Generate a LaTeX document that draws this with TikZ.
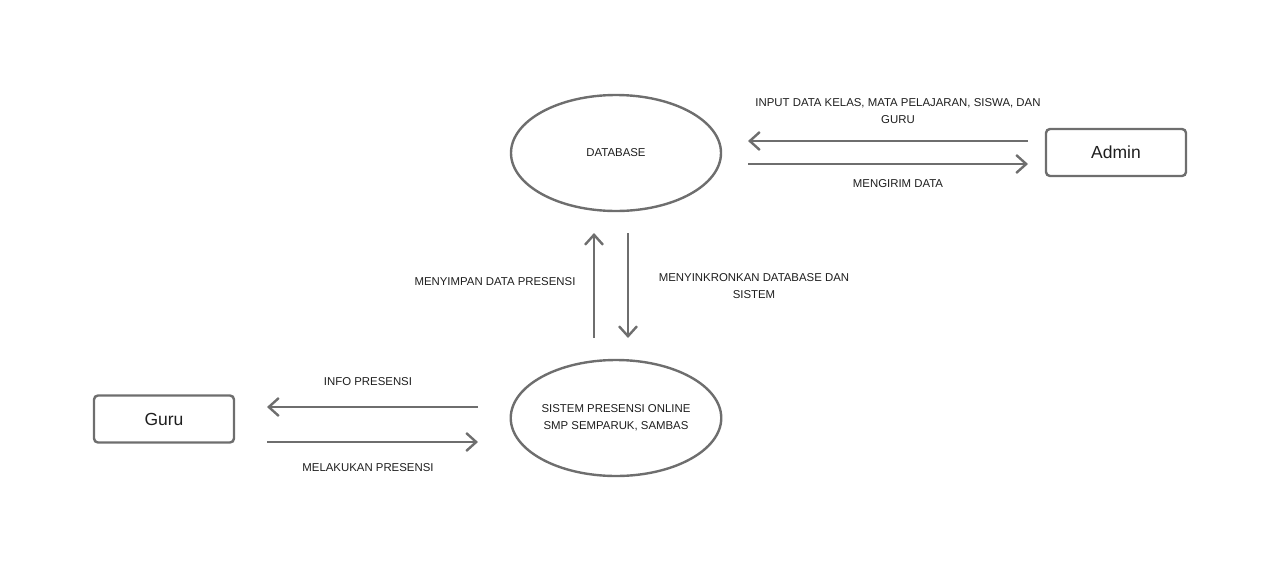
\documentclass[tikz,border=0pt]{standalone}
\usepackage{fontspec}
\setmainfont{Liberation Sans}
\usetikzlibrary{arrows.meta,shapes.geometric}
\definecolor{ln}{HTML}{6E6E6E}
\definecolor{tx}{HTML}{1E1E1E}
\tikzset{
  proc/.style={ellipse,draw=ln,line width=2.4pt,minimum width=210pt,minimum height=116pt,inner sep=0pt,align=center,text=tx,font=\fontsize{11.4}{17}\selectfont},
  ent/.style={rectangle,rounded corners=4pt,draw=ln,line width=2.4pt,minimum width=140pt,minimum height=47pt,inner sep=0pt,text=tx,font=\fontsize{17.5}{19}\selectfont},
  flow/.style={draw=ln,line width=2.4pt,-{Straight Barb[length=10pt,width=18pt,line width=2.4pt]}},
  lbl/.style={text=tx,font=\fontsize{11.4}{17}\selectfont,align=center,inner sep=0pt},
}
\begin{document}
\begin{tikzpicture}[x=1pt,y=-1pt]
\useasboundingbox (0,0) rectangle (1280,571);
\node[proc] (db) at (616,153) {DATABASE};
\node[proc] (sys) at (616,418) {SISTEM PRESENSI ONLINE\\SMP SEMPARUK, SAMBAS};
\node[ent] (admin) at (1116,152.5) {Admin};
\node[ent] (guru) at (164,419) {Guru};
\coordinate (a1) at (1028,141);
\coordinate (a2) at (748,141);
\coordinate (a3) at (748,164);
\coordinate (a4) at (1028,164);
\draw[flow] (a1) -- (a2);
\draw[flow] (a3) -- (a4);
\coordinate (v1) at (594,338);
\coordinate (v2) at (594,233);
\coordinate (v3) at (628,233);
\coordinate (v4) at (628,338);
\draw[flow] (v1) -- (v2);
\draw[flow] (v3) -- (v4);
\coordinate (g1) at (478,407);
\coordinate (g2) at (267,407);
\coordinate (g3) at (267,442);
\coordinate (g4) at (478,442);
\draw[flow] (g1) -- (g2);
\draw[flow] (g3) -- (g4);
\node[lbl] (l1) at (898,111.5) {INPUT DATA KELAS, MATA PELAJARAN, SISWA, DAN\\GURU};
\node[lbl] (l2) at (898,184) {MENGIRIM DATA};
\node[lbl] (l3) at (495,282) {MENYIMPAN DATA PRESENSI};
\node[lbl] (l4) at (754,286) {MENYINKRONKAN DATABASE DAN\\SISTEM};
\node[lbl] (l5) at (368,382) {INFO PRESENSI};
\node[lbl] (l6) at (368,468) {MELAKUKAN PRESENSI};
\end{tikzpicture}
\end{document}
